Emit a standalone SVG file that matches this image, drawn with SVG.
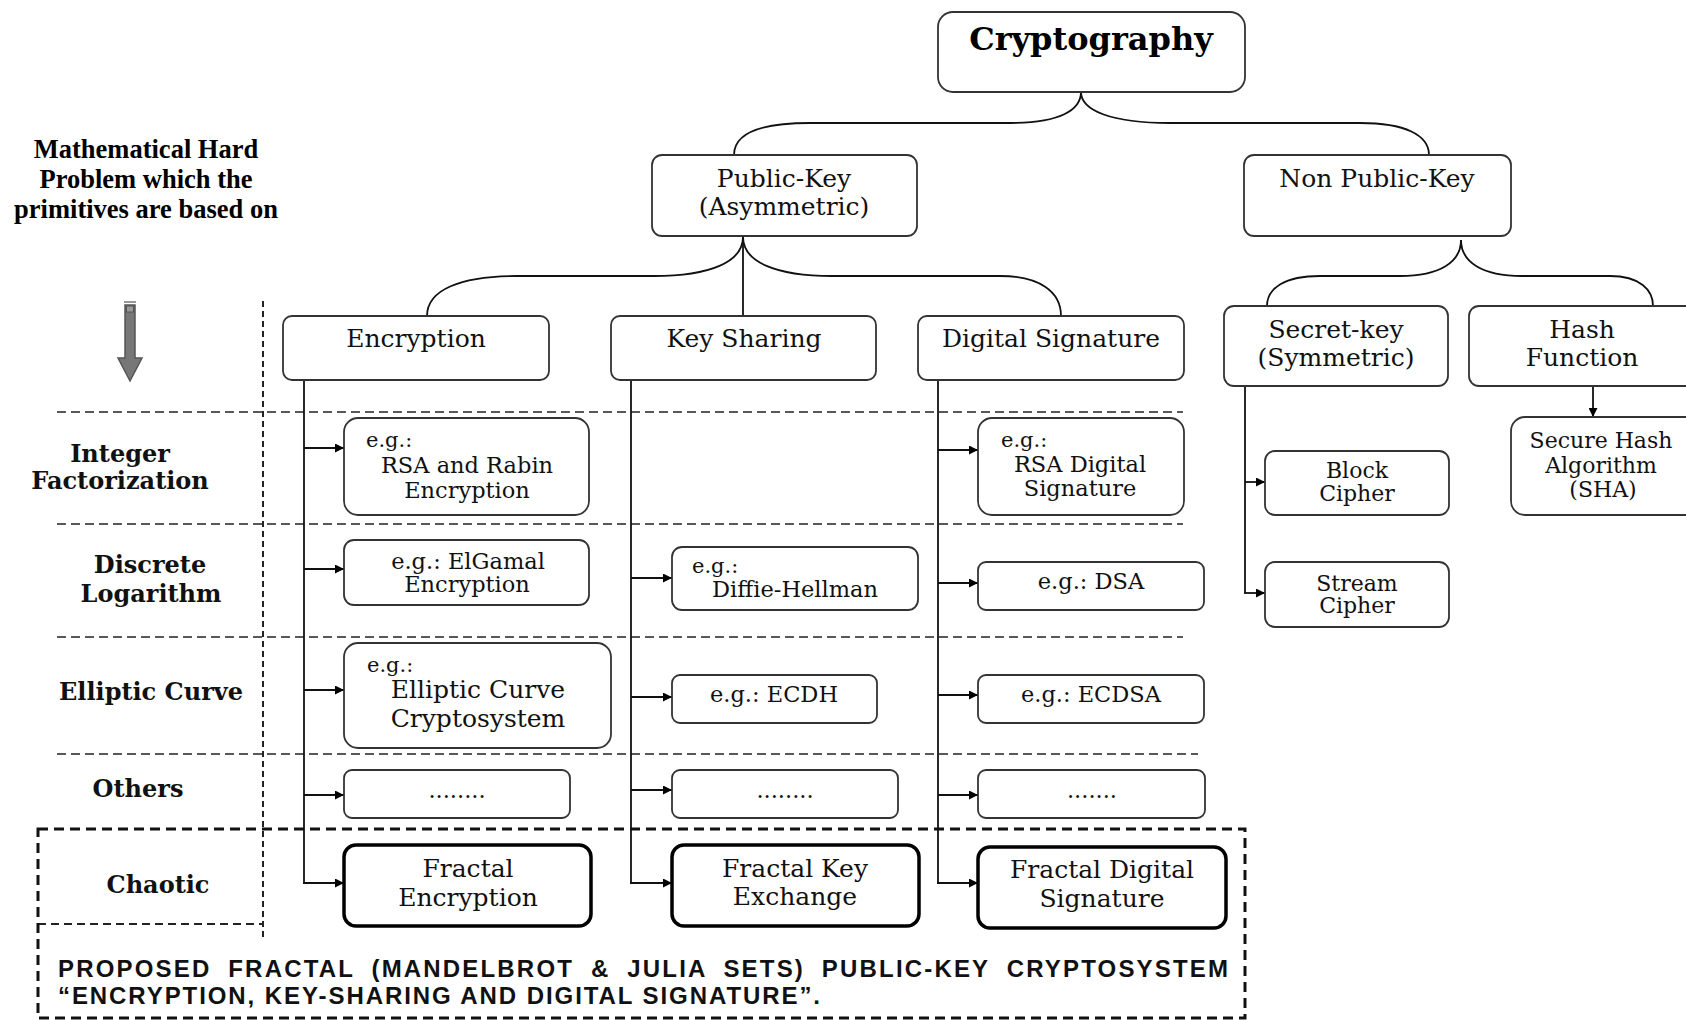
<svg xmlns="http://www.w3.org/2000/svg" width="1686" height="1020" viewBox="0 0 1686 1020">
<defs>
<style>
.bg{fill:#fff}
.box{fill:#fff;stroke:#333;stroke-width:1.8}
.thick{fill:#fff;stroke:#000;stroke-width:3.5}
.t{font-family:"DejaVu Serif","Liberation Serif",serif;font-size:25px;fill:#111;text-anchor:middle}
.s{font-family:"DejaVu Serif","Liberation Serif",serif;font-size:22.5px;fill:#111;text-anchor:middle}
.s2{font-family:"DejaVu Serif","Liberation Serif",serif;font-size:22px;fill:#111;text-anchor:middle}
.eg{font-family:"DejaVu Serif","Liberation Serif",serif;font-size:21px;fill:#111}
.lbl{font-family:"DejaVu Serif","Liberation Serif",serif;font-size:24px;font-weight:bold;fill:#111;text-anchor:middle}
.hdr{font-family:"Liberation Serif","Times New Roman",serif;font-size:26.5px;font-weight:bold;fill:#000;text-anchor:middle}
.foot{font-family:"Liberation Sans",Arial,sans-serif;font-size:24px;font-weight:bold;fill:#111}
.con{fill:none;stroke:#111;stroke-width:1.8}
.arr{fill:none;stroke:#111;stroke-width:1.8;marker-end:url(#ah)}
.dash{fill:none;stroke:#222;stroke-width:1.5;stroke-dasharray:9 5}
</style>
<marker id="ah" viewBox="0 0 10 10" refX="10" refY="5" markerWidth="12" markerHeight="9" markerUnits="userSpaceOnUse" orient="auto">
<path d="M0,0 L10,5 L0,10 z" fill="#000"/>
</marker>
</defs>
<rect class="bg" x="0" y="0" width="1686" height="1020"/>

<g id="layout-lines">
<line class="dash" x1="57" y1="412" x2="1183" y2="412"/>
<line class="dash" x1="57" y1="524" x2="1183" y2="524"/>
<line class="dash" x1="57" y1="637" x2="1183" y2="637"/>
<line class="dash" x1="57" y1="754" x2="1198" y2="754"/>
<line x1="263" y1="301" x2="263" y2="937" stroke="#222" stroke-width="2" stroke-dasharray="6 4"/>
<line x1="38" y1="924" x2="263" y2="924" stroke="#222" stroke-width="1.8" stroke-dasharray="8 5"/>
<rect x="38" y="829" width="1207" height="189" fill="none" stroke="#111" stroke-width="3" stroke-dasharray="10 6"/>
</g>

<g id="hard-problem-label">
<text class="hdr" x="146" y="158">Mathematical Hard</text>
<text class="hdr" x="146" y="188">Problem which the</text>
<text class="hdr" x="146" y="218">primitives are based on</text>
<line x1="124" y1="302" x2="136" y2="302" stroke="#777" stroke-width="1.5"/>
<path d="M125,305 L135,305 L135,358 L142,358 L130,381 L118,358 L125,358 Z" fill="#777" stroke="#555" stroke-width="1.5"/>
<rect x="126.5" y="306" width="7" height="6" fill="#999" stroke="#555" stroke-width="1"/>
</g>

<g id="row-labels">
<text class="lbl" x="120" y="462">Integer</text>
<text class="lbl" x="120" y="489">Factorization</text>
<text class="lbl" x="150" y="573">Discrete</text>
<text class="lbl" x="151" y="602">Logarithm</text>
<text class="lbl" x="151" y="700">Elliptic Curve</text>
<text class="lbl" x="138" y="797">Others</text>
<text class="lbl" x="158" y="893">Chaotic</text>
</g>

<g id="connectors">
<path class="con" d="M734,155 C734,133 760,123 810,123 L1010,123 C1060,123 1081,110 1081,92"/>
<path class="con" d="M1081,92 C1081,110 1110,123 1170,123 L1360,123 C1405,123 1429,135 1429,155"/>
<path class="con" d="M427,316 C427,290 460,276 517,276 L654,276 C710,276 743,262 743,237"/>
<path class="con" d="M743,237 C743,262 776,276 832,276 L1000,276 C1040,276 1061,292 1061,316"/>
<line class="con" x1="743" y1="237" x2="743" y2="316"/>
<path class="con" d="M1267,306 C1267,288 1285,276 1320,276 L1400,276 C1440,276 1461,262 1461,240"/>
<path class="con" d="M1461,240 C1461,262 1482,276 1522,276 L1610,276 C1640,276 1653,290 1653,306"/>
<line class="con" x1="304" y1="380" x2="304" y2="883"/>
<line class="con" x1="631" y1="380" x2="631" y2="883"/>
<line class="con" x1="938" y1="380" x2="938" y2="883"/>
<line class="con" x1="1245" y1="386" x2="1245" y2="593"/>
<line class="arr" x1="304" y1="448" x2="344" y2="448"/>
<line class="arr" x1="304" y1="569" x2="344" y2="569"/>
<line class="arr" x1="304" y1="690" x2="344" y2="690"/>
<line class="arr" x1="304" y1="795" x2="344" y2="795"/>
<line class="arr" x1="303" y1="883" x2="344" y2="883"/>
<line class="arr" x1="631" y1="578" x2="672" y2="578"/>
<line class="arr" x1="631" y1="697" x2="672" y2="697"/>
<line class="arr" x1="631" y1="790" x2="672" y2="790"/>
<line class="arr" x1="630" y1="883" x2="672" y2="883"/>
<line class="arr" x1="938" y1="450" x2="978" y2="450"/>
<line class="arr" x1="938" y1="583" x2="978" y2="583"/>
<line class="arr" x1="938" y1="695" x2="978" y2="695"/>
<line class="arr" x1="938" y1="795" x2="978" y2="795"/>
<line class="arr" x1="937" y1="883" x2="978" y2="883"/>
<line class="arr" x1="1245" y1="482" x2="1265" y2="482"/>
<line class="arr" x1="1244" y1="593" x2="1265" y2="593"/>
<line class="arr" x1="1593" y1="386" x2="1593" y2="417"/>
</g>

<g id="cryptography">
<rect class="box" x="938" y="12" width="307" height="80" rx="15"/>
<text x="1091" y="50" font-family="DejaVu Serif, Liberation Serif, serif" font-size="32" font-weight="bold" fill="#000" text-anchor="middle">Cryptography</text>
</g>
<g id="public-key">
<rect class="box" x="652" y="155" width="265" height="81" rx="10"/>
<text class="t" x="784" y="187">Public-Key</text>
<text class="t" x="784" y="215">(Asymmetric)</text>
</g>
<g id="non-public-key">
<rect class="box" x="1244" y="155" width="267" height="81" rx="10"/>
<text class="t" x="1377" y="187">Non Public-Key</text>
</g>
<g id="encryption">
<rect class="box" x="283" y="316" width="266" height="64" rx="9"/>
<text class="t" x="416" y="347">Encryption</text>
</g>
<g id="key-sharing">
<rect class="box" x="611" y="316" width="265" height="64" rx="9"/>
<text class="t" x="744" y="347">Key Sharing</text>
</g>
<g id="digital-signature">
<rect class="box" x="918" y="316" width="266" height="64" rx="9"/>
<text class="t" x="1051" y="347">Digital Signature</text>
</g>
<g id="secret-key">
<rect class="box" x="1224" y="306" width="224" height="80" rx="10"/>
<text class="t" x="1336" y="338">Secret-key</text>
<text class="t" x="1336" y="366">(Symmetric)</text>
</g>
<g id="hash-function">
<rect class="box" x="1469" y="306" width="240" height="80" rx="10"/>
<text class="t" x="1582" y="338">Hash</text>
<text class="t" x="1582" y="366">Function</text>
</g>

<g id="rsa-rabin">
<rect class="box" x="344" y="418" width="245" height="97" rx="14"/>
<text class="eg" x="366" y="447">e.g.:</text>
<text class="s" x="467" y="473">RSA and Rabin</text>
<text class="s" x="467" y="498">Encryption</text>
</g>
<g id="rsa-signature">
<rect class="box" x="978" y="418" width="206" height="97" rx="14"/>
<text class="eg" x="1001" y="447">e.g.:</text>
<text class="s" x="1080" y="472">RSA Digital</text>
<text class="s" x="1080" y="496">Signature</text>
</g>
<g id="elgamal">
<rect class="box" x="344" y="540" width="245" height="65" rx="10"/>
<text class="s" x="468" y="569">e.g.: ElGamal</text>
<text class="s" x="467" y="592">Encryption</text>
</g>
<g id="diffie-hellman">
<rect class="box" x="672" y="547" width="246" height="63" rx="10"/>
<text class="eg" x="692" y="573">e.g.:</text>
<text class="s" x="795" y="597">Diffie-Hellman</text>
</g>
<g id="dsa">
<rect class="box" x="978" y="562" width="226" height="48" rx="8"/>
<text class="s" x="1091" y="589">e.g.: DSA</text>
</g>
<g id="ecc">
<rect class="box" x="344" y="643" width="267" height="105" rx="14"/>
<text class="eg" x="367" y="672">e.g.:</text>
<text class="t" x="478" y="698">Elliptic Curve</text>
<text class="t" x="478" y="727">Cryptosystem</text>
</g>
<g id="ecdh">
<rect class="box" x="672" y="675" width="205" height="48" rx="8"/>
<text class="s" x="774" y="702">e.g.: ECDH</text>
</g>
<g id="ecdsa">
<rect class="box" x="978" y="675" width="226" height="48" rx="8"/>
<text class="s" x="1091" y="702">e.g.: ECDSA</text>
</g>
<g id="others-encryption">
<rect class="box" x="344" y="770" width="226" height="48" rx="8"/>
<text class="s" x="457" y="798">........</text>
</g>
<g id="others-key-sharing">
<rect class="box" x="672" y="770" width="226" height="48" rx="8"/>
<text class="s" x="785" y="798">........</text>
</g>
<g id="others-signature">
<rect class="box" x="978" y="770" width="227" height="48" rx="8"/>
<text class="s" x="1092" y="798">.......</text>
</g>
<g id="fractal-encryption">
<rect class="thick" x="344" y="845" width="247" height="81" rx="12"/>
<text class="t" x="468" y="877">Fractal</text>
<text class="t" x="468" y="906">Encryption</text>
</g>
<g id="fractal-key-exchange">
<rect class="thick" x="672" y="845" width="247" height="81" rx="12"/>
<text class="t" x="795" y="877">Fractal Key</text>
<text class="t" x="795" y="905">Exchange</text>
</g>
<g id="fractal-digital-signature">
<rect class="thick" x="978" y="847" width="248" height="81" rx="12"/>
<text class="t" x="1102" y="878">Fractal Digital</text>
<text class="t" x="1102" y="907">Signature</text>
</g>
<g id="block-cipher">
<rect class="box" x="1265" y="451" width="184" height="64" rx="10"/>
<text class="s2" x="1357" y="478">Block</text>
<text class="s2" x="1357" y="501">Cipher</text>
</g>
<g id="stream-cipher">
<rect class="box" x="1265" y="562" width="184" height="65" rx="10"/>
<text class="s2" x="1357" y="591">Stream</text>
<text class="s2" x="1357" y="613">Cipher</text>
</g>
<g id="sha">
<rect class="box" x="1511" y="417" width="200" height="98" rx="14"/>
<text class="s2" x="1601" y="448">Secure Hash</text>
<text class="s2" x="1601" y="473">Algorithm</text>
<text class="s2" x="1603" y="497">(SHA)</text>
</g>

<g id="proposal-note">
<text class="foot" x="58" y="977" word-spacing="8" textLength="1170" lengthAdjust="spacing">PROPOSED FRACTAL (MANDELBROT &amp; JULIA SETS) PUBLIC-KEY CRYPTOSYSTEM</text>
<text class="foot" x="58" y="1004" textLength="762" lengthAdjust="spacing">“ENCRYPTION, KEY-SHARING AND DIGITAL SIGNATURE”.</text>
</g>
</svg>
